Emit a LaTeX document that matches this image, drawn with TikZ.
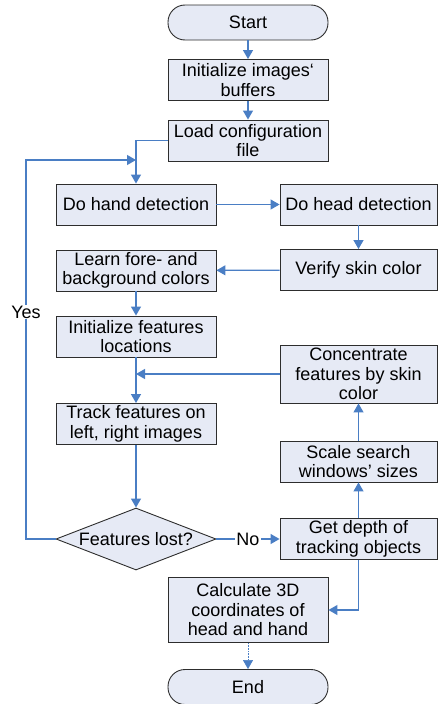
\documentclass[tikz,border=0pt]{standalone}
\usepackage{fontspec}
\setmainfont{Liberation Sans}
\usetikzlibrary{shapes.geometric,arrows.meta}
\definecolor{boxfill}{RGB}{230,234,245}
\definecolor{flowblue}{RGB}{74,126,196}
\definecolor{boxline}{RGB}{45,45,45}

\tikzset{
    proc/.style={draw=boxline, fill=boxfill, line width=0.9pt, minimum width=160pt, minimum height=41pt,
        align=center, inner sep=1pt, font=\fontsize{18}{19.5}\selectfont},
    rproc/.style={proc, minimum width=157pt},
    term/.style={proc, rounded corners=17pt, minimum height=35pt},
    test/.style={proc, diamond, aspect=2.58, minimum height=62pt, inner sep=0pt},
    flow/.style={draw=flowblue, line width=1.2pt, -{Triangle[length=9pt,width=10pt]}},
    lbl/.style={fill=white, inner sep=1pt, font=\fontsize{18}{19.5}\selectfont},
}

\begin{document}
\begin{tikzpicture}[x=1pt, y=-1pt]
            \useasboundingbox (0,0) rectangle (438,704);
            % left and middle column
            \node[term] (start) at (248,22.5) {Start};
            \node[proc] (initbuf) at (248,80) {Initialize images‘\\buffers};
            \node[proc] (loadcfg) at (248,140.5) {Load configuration\\file};
            \node[proc] (hand) at (136,204.5) {Do hand detection};
            \node[proc] (learn) at (136,270.5) {Learn fore- and\\background colors};
            \node[proc] (initfeat) at (136,336.5) {Initialize features\\locations};
            \node[proc] (track) at (136,424) {Track features on\\left, right images};
            \node[test] (lost) at (136,539) {Features lost?};
            \node[proc, minimum height=65pt] (calc) at (248,610) {Calculate 3D\\coordinates of\\head and hand};
            \node[term] (stop) at (248,687) {End};
            % right column
            \node[rproc] (head) at (358.5,204.5) {Do head detection};
            \node[rproc] (verify) at (358.5,270) {Verify skin color};
            \node[rproc, minimum height=58pt] (concen) at (358.5,374) {Concentrate\\features by skin\\color};
            \node[rproc] (scale) at (358.5,461.5) {Scale search\\windows’ sizes};
            \node[rproc] (depth) at (358.5,539) {Get depth of\\tracking objects};
            % joints
            \coordinate (loopout) at (26,160);
            \coordinate (loopin) at (136,160);
            \coordinate (merge) at (136,374);
            % connectors
            \draw[flow] (start) -- (initbuf);
            \draw[flow] (initbuf) -- (loadcfg);
            \draw[flow] (loadcfg.west) -| (hand.north);
            \draw[flow] (lost.west) -| (loopout) -- (loopin);
            \node[lbl] (yes) at (26,312) {Yes};
            \draw[flow] (hand) -- (head);
            \draw[flow] (head) -- (verify);
            \draw[flow] (verify) -- (learn);
            \draw[flow] (learn) -- (initfeat);
            \draw[flow] (initfeat) -- (track);
            \draw[flow] (concen.west) -- (merge);
            \draw[flow] (track) -- (lost);
            \draw[flow] (lost) -- node[lbl] (no) {No} (depth);
            \draw[flow] (depth) -- (scale);
            \draw[flow] (scale) -- (concen);
            \draw[flow] (depth.south) |- (calc.east);
            \draw[flow, line width=0.6pt, densely dotted] (calc) -- (stop);
        \end{tikzpicture}
\end{document}
